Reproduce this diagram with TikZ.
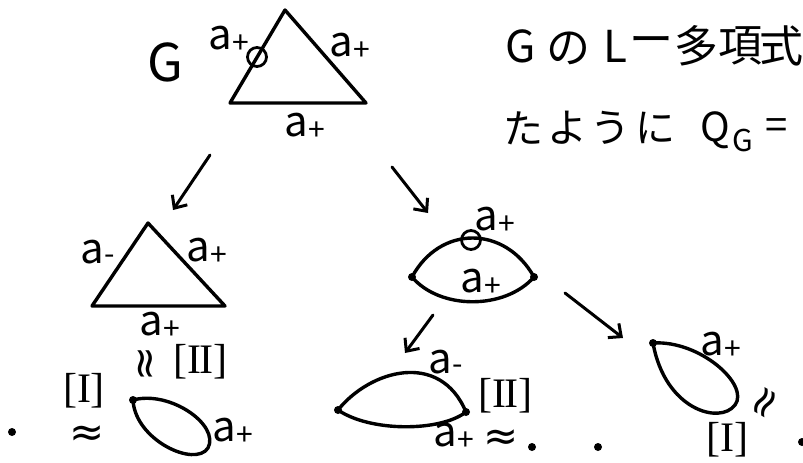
\documentclass[tikz,border=0pt]{standalone}
\usepackage{fontspec}
\setmainfont{Noto Sans CJK JP}
\newfontfamily\serfont{Liberation Serif}
\newfontfamily\symfont{DejaVu Sans}
\usetikzlibrary{arrows.meta}
\newcommand{\lblp}{a\kern0.5pt\raisebox{-4pt}{\fontsize{30}{30}\selectfont +}}
\newcommand{\lblm}{a\kern0.5pt\raisebox{-1pt}{\fontsize{30}{30}\selectfont -}}
\begin{document}
\begin{tikzpicture}[x=1pt,y=-1pt,
 edge/.style={line width=3.4pt, line cap=round, line join=round},
 arr/.style={line width=3pt, line cap=round, -{Straight Barb[length=10pt,width=18pt]}},
 lbl/.style={font=\fontsize{42}{42}\selectfont, inner sep=0pt},
 jp/.style={font=\fontsize{44}{44}\selectfont, inner sep=0pt},
 jp2/.style={font=\fontsize{40}{40}\selectfont, inner sep=0pt},
 vtx/.style={circle, fill, inner sep=0pt, minimum size=8pt},
 ring/.style={circle, draw, line width=2.8pt, inner sep=0pt, minimum size=19pt},
 br/.style={font=\serfont\fontsize{42}{42}\selectfont, inner sep=0pt, text height=28pt, text depth=5pt},
 sym/.style={font=\symfont\fontsize{42}{42}\selectfont, inner sep=0pt, text height=19pt, text depth=-5pt},
 dotn/.style={circle, fill, inner sep=0pt, minimum size=8pt}]
\clip (0,0) rectangle (803,463);
\fill[white] (0,0) rectangle (803,463);

% ---- top triangle G
\node[lbl, font=\fontsize{52}{52}\selectfont] (G) at (165,62) {G};
\coordinate (t1) at (285,10);
\coordinate (t2) at (230,103);
\coordinate (t3) at (366,103);
\draw[edge] (t1) -- (t2) -- (t3) -- cycle;
\node[ring] (tr) at (257,57) {};
\node[lbl] (tl1) at (229,40) {\lblp};
\node[lbl] (tl2) at (350,47) {\lblp};
\node[lbl] (tl3) at (305,127) {\lblp};

% ---- text top right
\node[jp] (j1) at (521,46) {G};
\node[jp] (j2) at (568,48) {の};
\node[jp] (j3) at (615,46) {L};
\node[jp] (j4) at (651,46) {ー};
\node[jp] (j5) at (696,46) {多};
\node[jp] (j6) at (740,46) {項};
\node[jp] (j7) at (781,46) {式};
\node[jp2] (k1) at (523,128) {た};
\node[jp2] (k2) at (567,128) {よ};
\node[jp2] (k3) at (610,128) {う};
\node[jp2] (k4) at (655,128) {に};
\node[jp2] (k5) at (715,130) {Q};
\node[jp2, font=\fontsize{30}{30}\selectfont] (k6) at (743,141) {G};
\node[jp2] (k7) at (777,129) {=};

% ---- arrows from top
\coordinate (a1s) at (210,155); \coordinate (a1e) at (173,210);
\coordinate (a2s) at (392,167); \coordinate (a2e) at (428,213);
\draw[arr] (a1s) -- (a1e);
\draw[arr] (a2s) -- (a2e);

% ---- left triangle
\coordinate (l1) at (148,223);
\coordinate (l2) at (92,306);
\coordinate (l3) at (225,306);
\draw[edge] (l1) -- (l2) -- (l3) -- cycle;
\node[lbl] (ll1) at (98,252) {\lblm};
\node[lbl] (ll2) at (207,252) {\lblp};
\node[lbl] (ll3) at (160,326) {\lblp};
\node[sym, rotate=90] (eqv) at (149,364) {≈};
\node[br] (II1) at (200,362) {[I\kern-2ptI]};

% ---- left loop
\node[dotn] (d1) at (12,432) {};
\node[br] (I1) at (84,391) {[I]};
\node[sym] (eq1) at (87,437) {≈};
\node[vtx] (lv) at (133,400) {};
\draw[edge] (lv.center) .. controls (170,390) and (220,425) .. (208,448)
  .. controls (195,468) and (135,440) .. (lv.center);
\node[lbl] (lvl) at (233,432) {\lblp};

% ---- middle digon
\node[vtx] (m1) at (412,277) {};
\node[vtx] (m2) at (534,277) {};
\draw[edge] (m1.center) .. controls (440,225) and (505,225) .. (m2.center);
\draw[edge] (m1.center) .. controls (440,310) and (505,310) .. (m2.center);
\node[ring] (mr) at (471,240) {};
\node[lbl] (ml1) at (495,221) {\lblp};
\node[lbl] (ml2) at (481,283) {\lblp};

% ---- arrows from digon
\coordinate (a3s) at (433,315); \coordinate (a3e) at (405,353);
\coordinate (a4s) at (565,293); \coordinate (a4e) at (623,338);
\draw[arr] (a3s) -- (a3e);
\draw[arr] (a4s) -- (a4e);

% ---- bottom digon
\node[vtx] (b1) at (338,410) {};
\node[vtx] (b2) at (466,412) {};
\draw[edge] (b1.center) .. controls (370,370) and (440,350) .. (b2.center);
\draw[edge] (b1.center) .. controls (370,432) and (440,432) .. (b2.center);
\node[lbl] (bl1) at (446,362) {\lblm};
\node[lbl] (bl2) at (454,437) {\lblp};
\node[br] (II2) at (505,396) {[I\kern-2ptI]};
\node[sym] (eq2) at (501,441) {≈};
\node[dotn] (d2) at (532,447) {};
\node[dotn] (d3) at (598,447) {};

% ---- right loop
\node[vtx] (rv) at (653,343) {};
\draw[edge] (rv.center) .. controls (700,340) and (750,385) .. (735,405)
  .. controls (720,425) and (665,410) .. (rv.center);
\node[lbl] (rvl) at (721,346) {\lblp};
\node[br] (I2) at (727,440) {[I]};
\node[sym, rotate=60] (eq3) at (768,405) {≈};
\node[dotn] (d4) at (802,442) {};
\end{tikzpicture}
\end{document}
